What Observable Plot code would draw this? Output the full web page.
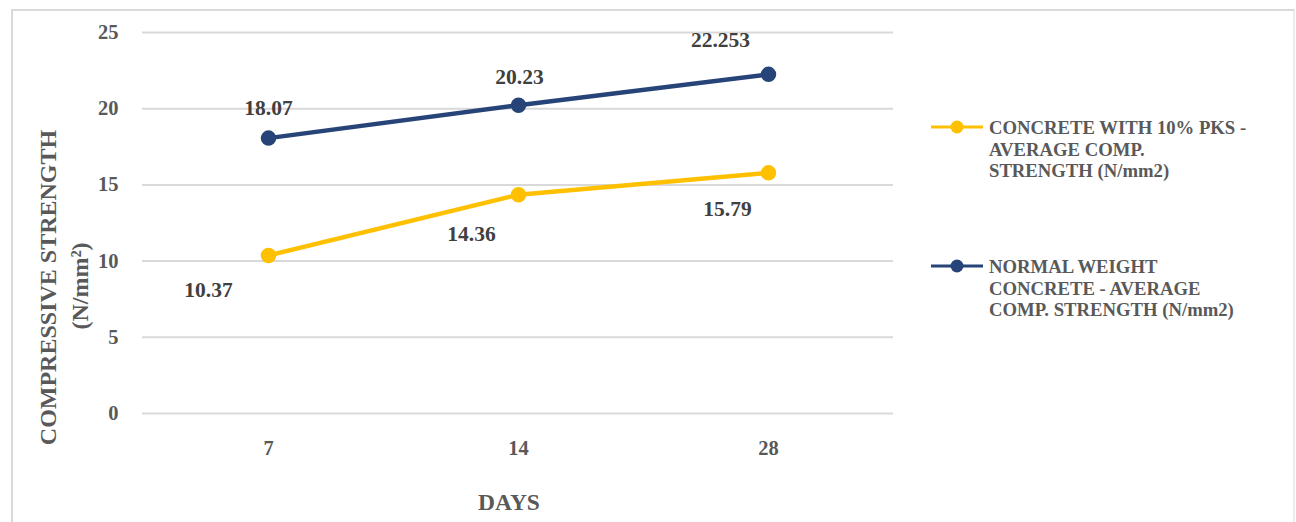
<!DOCTYPE html>
<html>
<head>
<meta charset="utf-8">
<script src="https://cdn.jsdelivr.net/npm/d3@7"></script>
<script src="https://cdn.jsdelivr.net/npm/@observablehq/plot@0.6"></script>
<style>
  html, body { margin: 0; padding: 0; background: #fff; overflow: hidden; }
  #wrap { position: relative; width: 1296px; height: 522px; }
  #border { position: absolute; left: 11px; top: 9px; width: 1284px; height: 560px; border: 2px solid #d9d9d9; border-right-color: #ececec; box-sizing: border-box; }
  #chart { position: absolute; left: 0; top: 0; }
  .leg { position: absolute; left: 930px; display: flex; align-items: flex-start; font-family: "Liberation Serif", "Times New Roman", serif; font-weight: bold; font-size: 18.7px; line-height: 21.5px; color: #595959; white-space: nowrap; }
  .leg svg { flex: none; margin-top: 2px; margin-right: 5px; }
</style>
</head>
<body>
<div id="wrap">
  <div id="border"></div>
  <div id="chart"></div>
  <div id="legend"></div>
</div>
<script>
const days = ["7", "14", "28"];
const pksValues = [10.37, 14.36, 15.79];
const normalValues = [18.07, 20.23, 22.253];
const seriesNames = [
  "CONCRETE WITH 10% PKS - AVERAGE COMP. STRENGTH (N/mm2)",
  "NORMAL WEIGHT CONCRETE - AVERAGE COMP. STRENGTH (N/mm2)"
];
const legendLines = [
  ["CONCRETE WITH 10% PKS -", "AVERAGE COMP.", "STRENGTH (N/mm2)"],
  ["NORMAL WEIGHT", "CONCRETE - AVERAGE", "COMP. STRENGTH (N/mm2)"]
];
const seriesColors = ["#FFC000", "#264478"];
const yTicks = [0, 5, 10, 15, 20, 25];
const xTitle = "DAYS";
const yTitle = ["COMPRESSIVE STRENGTH", "(N/mm²)"];

const pks = days.map((d, i) => ({day: d, value: pksValues[i], series: seriesNames[0]}));
const normal = days.map((d, i) => ({day: d, value: normalValues[i], series: seriesNames[1]}));

const font = '"Liberation Serif", "Times New Roman", serif';
const labelStyle = {x: "day", y: "value", text: d => String(d.value), fill: "#404040", fontSize: 21.5, fontWeight: "bold"};

// label placement offsets (style, not data)
const pksOffsets = [[-60, 35], [-47, 39], [-41, 36]];
const normalOffsets = [[0, -30], [1, -28], [-48, -34]];

const labelMarks = [
  ...pks.map((d, i) => Plot.text([d], {...labelStyle, dx: pksOffsets[i][0], dy: pksOffsets[i][1]})),
  ...normal.map((d, i) => Plot.text([d], {...labelStyle, dx: normalOffsets[i][0], dy: normalOffsets[i][1]}))
];

const chart = Plot.plot({
  width: 1296,
  height: 522,
  marginLeft: 142,
  marginRight: 403,
  marginTop: 32,
  marginBottom: 109,
  style: {fontFamily: font, fontWeight: "bold", fontSize: "20.5px", color: "#595959", background: "transparent"},
  x: {type: "point", domain: days, padding: 0.5},
  y: {domain: [0, 25]},
  marks: [
    Plot.gridY(yTicks, {stroke: "#d9d9d9", strokeOpacity: 1, strokeWidth: 2}),
    Plot.axisY(yTicks, {tickSize: 0, tickPadding: 24, label: null, fill: "#595959", fontSize: 20.5}),
    Plot.axisX(days, {tickSize: 0, tickPadding: 27, label: null, fill: "#595959", fontSize: 20.5}),
    Plot.line(pks, {x: "day", y: "value", stroke: seriesColors[0], strokeWidth: 4.5}),
    Plot.line(normal, {x: "day", y: "value", stroke: seriesColors[1], strokeWidth: 4.5}),
    Plot.dot(pks, {x: "day", y: "value", r: 7, fill: seriesColors[0], stroke: seriesColors[0]}),
    Plot.dot(normal, {x: "day", y: "value", r: 7, fill: seriesColors[1], stroke: seriesColors[1]}),
    ...labelMarks,
    Plot.text([xTitle], {frameAnchor: "bottom", lineAnchor: "middle", dx: -9, dy: 89, fill: "#595959", fontSize: 23.5, fontWeight: "bold"}),
    Plot.text([yTitle[0]], {frameAnchor: "left", textAnchor: "middle", lineAnchor: "middle", rotate: -90, dx: -94, dy: 64.5, fill: "#595959", fontSize: 24, fontWeight: "bold"}),
    Plot.text([yTitle[1]], {frameAnchor: "left", textAnchor: "middle", lineAnchor: "middle", rotate: -90, dx: -62, dy: 63, fill: "#595959", fontSize: 24, fontWeight: "bold"})
  ]
});
document.getElementById("chart").appendChild(chart);

const legend = document.getElementById("legend");
const legTops = [117, 256];
seriesNames.forEach((name, i) => {
  const item = document.createElement("div");
  item.className = "leg";
  item.style.top = legTops[i] + "px";
  item.title = name;
  const c = seriesColors[i];
  item.innerHTML = `<svg width="54" height="16"><line x1="1" x2="53" y1="8" y2="8" stroke="${c}" stroke-width="3"/><circle cx="27" cy="8" r="6.5" fill="${c}"/></svg><div>${legendLines[i].join("<br>")}</div>`;
  legend.appendChild(item);
});
</script>
</body>
</html>
